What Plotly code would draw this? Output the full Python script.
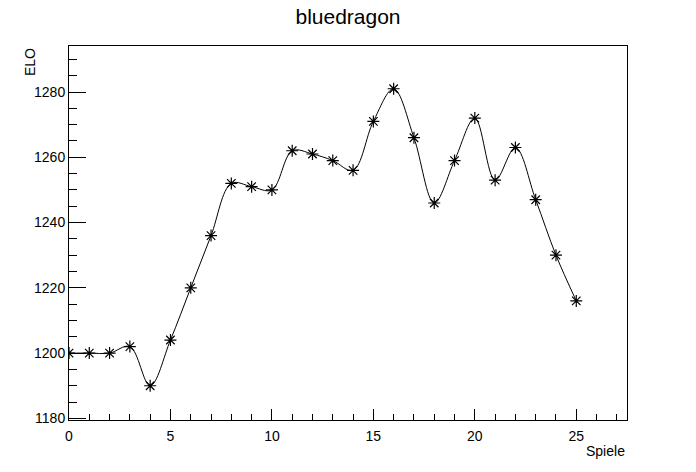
import plotly.graph_objects as go

games = list(range(26))
elo = [1200, 1200, 1200, 1202, 1190, 1204, 1220, 1236, 1252, 1251, 1250,
       1262, 1261, 1259, 1256, 1271, 1281, 1266, 1246, 1259, 1272, 1253,
       1263, 1247, 1230, 1216]
x_ticks = [0, 5, 10, 15, 20, 25]
y_ticks = [1180, 1200, 1220, 1240, 1260, 1280]

FONT = "Liberation Sans, Arial, sans-serif"

W, H = 696, 472
ML, MR, MT, MB = 69, 69, 46, 52
PW, PH = W - ML - MR, H - MT - MB

fig = go.Figure()
fig.add_trace(go.Scatter(
    x=games, y=elo, mode="lines+markers",
    line=dict(color="black", width=1, shape="spline", smoothing=1),
    marker=dict(symbol="asterisk", size=10, color="black",
                line=dict(color="black", width=1.2)),
    showlegend=False, hoverinfo="skip",
))

fig.update_layout(
    width=W, height=H,
    paper_bgcolor="white", plot_bgcolor="white",
    margin=dict(l=ML, r=MR, t=MT, b=MB),
    font=dict(family=FONT, size=14, color="black"),
    title=dict(text="bluedragon", x=0.5, xanchor="center", y=1 - 17 / H, yanchor="middle",
               font=dict(family=FONT, size=21, color="black")),
    annotations=[
        dict(text="ELO", xref="paper", yref="paper", x=-39 / PW, y=1.0,
             xanchor="center", yanchor="top", textangle=-90, showarrow=False,
             font=dict(family=FONT, size=14)),
        dict(text="Spiele", xref="paper", yref="paper", x=1.0, y=-21 / PH,
             xanchor="right", yanchor="top", showarrow=False,
             font=dict(family=FONT, size=14)),
    ],
)

fig.update_xaxes(
    range=[0, 27.5], tickvals=x_ticks, ticktext=[str(v) for v in x_ticks],
    ticks="inside", ticklen=11, tickwidth=1, tickcolor="black", ticklabelstandoff=3,
    minor=dict(dtick=1, tick0=0, ticks="inside", ticklen=6, tickwidth=1, tickcolor="black"),
    showline=True, linecolor="black", linewidth=1, mirror=True,
    showgrid=False, zeroline=False,
)
fig.update_yaxes(
    range=[1179.5, 1294.1], tickvals=y_ticks, ticktext=[str(v) for v in y_ticks],
    ticks="inside", ticklen=17, tickwidth=1, tickcolor="black",
    minor=dict(dtick=5, tick0=1180, ticks="inside", ticklen=8, tickwidth=1, tickcolor="black"),
    showline=True, linecolor="black", linewidth=1, mirror=True,
    showgrid=False, zeroline=False,
)

fig.write_html("out.html", config={"displayModeBar": False},
               post_script="document.body.style.margin='0';")
